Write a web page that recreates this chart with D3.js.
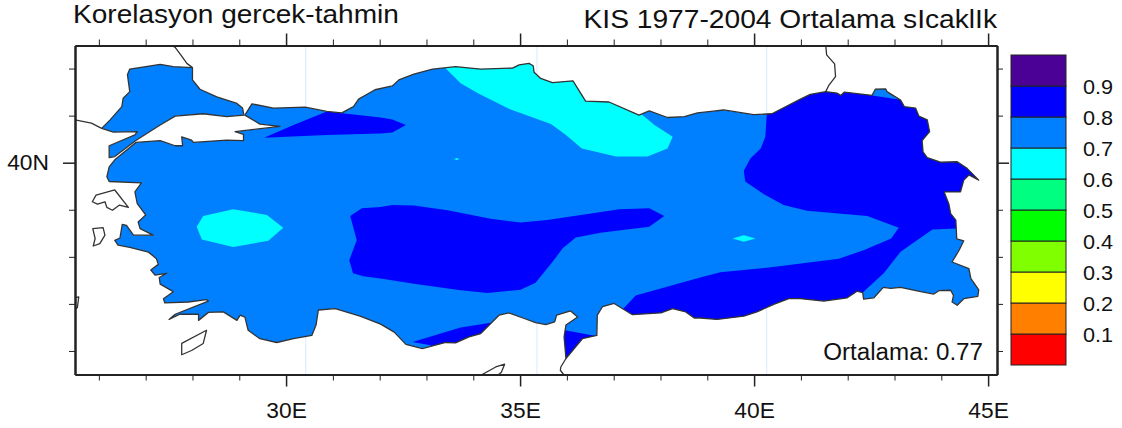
<!DOCTYPE html>
<html>
<head>
<meta charset="utf-8">
<script src="https://cdn.jsdelivr.net/npm/d3@7"></script>
<style>
  body { margin: 0; background: #fff; }
  text { font-family: "Liberation Sans", sans-serif; fill: #111; }
</style>
</head>
<body>
<div id="map"></div>
<script>
// Data: everything is [lon, lat]
const thrace = [[26.06,40.73],[26.24,40.91],[26.49,41.19],[26.52,41.37],[26.66,41.51],[26.61,41.87],[26.66,41.99],[27.31,42.09],[27.59,42.04],[28.00,42.02],[28.00,41.76],[28.16,41.56],[28.52,41.40],[28.95,41.26],[29.07,41.16],[29.10,41.01],[28.73,40.98],[28.23,41.04],[27.63,40.99],[27.31,40.80],[26.79,40.47],[26.34,40.13],[26.22,40.11],[26.22,40.36],[26.77,40.59],[26.82,40.66],[26.31,40.65]];

const anatolia = [[29.12,41.01],[29.27,41.25],[29.73,41.16],[30.41,41.18],[30.87,41.09],[31.19,41.06],[31.44,41.19],[31.55,41.35],[31.90,41.55],[32.27,41.63],[32.41,41.76],[32.73,41.88],[33.13,41.99],[33.62,42.04],[34.16,41.99],[34.84,42.01],[34.98,42.08],[35.19,42.11],[35.28,42.06],[35.30,41.92],[35.44,41.79],[35.69,41.70],[36.13,41.74],[36.40,41.31],[36.90,41.29],[37.54,41.01],[37.76,41.10],[38.15,40.96],[38.51,40.98],[38.79,41.06],[39.08,41.09],[39.35,41.12],[39.99,41.02],[40.38,41.04],[40.99,41.35],[41.20,41.45],[41.53,41.51],[41.77,41.48],[41.85,41.43],[41.93,41.50],[42.52,41.43],[42.59,41.56],[42.81,41.57],[42.84,41.51],[43.13,41.33],[43.21,41.19],[43.45,41.16],[43.52,40.99],[43.70,40.91],[43.75,40.66],[43.59,40.47],[43.61,40.23],[43.70,40.11],[43.98,40.01],[44.34,40.02],[44.55,39.88],[44.80,39.63],[44.59,39.74],[44.48,39.63],[44.41,39.38],[44.06,39.38],[44.16,39.13],[44.20,38.92],[44.31,38.78],[44.33,38.38],[44.48,38.34],[44.38,38.14],[44.23,37.89],[44.59,37.75],[44.63,37.54],[44.80,37.30],[44.78,37.16],[44.48,37.11],[44.34,36.97],[44.23,37.04],[44.26,37.18],[44.20,37.29],[43.95,37.28],[43.84,37.21],[43.56,37.26],[43.13,37.35],[42.92,37.33],[42.76,37.35],[42.56,37.13],[42.34,37.10],[42.32,37.24],[42.20,37.27],[41.99,37.13],[41.49,37.06],[40.99,37.11],[40.74,37.11],[40.42,36.99],[40.06,36.83],[39.78,36.74],[39.21,36.67],[38.85,36.70],[38.72,36.70],[38.54,36.83],[38.26,36.90],[38.01,36.81],[37.40,36.77],[37.01,37.01],[36.76,36.94],[36.65,36.76],[36.64,36.33],[36.33,36.26],[35.98,35.84],[35.94,36.30],[35.98,36.55],[36.23,36.72],[36.08,36.85],[35.78,36.76],[35.74,36.62],[35.55,36.56],[35.33,36.60],[35.09,36.69],[34.76,36.81],[34.55,36.76],[34.16,36.37],[33.91,36.30],[33.62,36.17],[33.41,36.18],[32.91,36.05],[32.56,36.14],[32.31,36.40],[32.02,36.57],[31.58,36.74],[31.05,36.90],[30.69,36.87],[30.64,36.55],[30.55,36.33],[30.16,36.26],[29.80,36.18],[29.44,36.26],[29.19,36.44],[29.12,36.72],[29.02,36.76],[28.95,36.65],[28.66,36.83],[28.34,36.82],[28.13,36.65],[28.13,36.78],[27.73,36.78],[27.50,36.67],[27.63,36.78],[28.34,37.06],[28.30,37.09],[27.91,37.04],[27.41,37.02],[27.38,37.11],[27.59,37.26],[27.31,37.42],[27.29,37.56],[27.45,37.65],[27.20,37.61],[27.11,37.72],[27.27,37.84],[27.23,37.96],[27.06,38.10],[26.66,38.20],[26.41,38.25],[26.34,38.35],[26.45,38.40],[26.50,38.69],[26.59,38.67],[26.74,38.46],[27.16,38.46],[26.88,38.60],[26.84,38.74],[27.00,38.89],[26.82,39.13],[26.77,39.38],[26.91,39.57],[26.22,39.60],[26.17,39.70],[26.22,39.91],[26.34,40.06],[26.79,40.43],[27.31,40.47],[27.63,40.36],[27.79,40.36],[27.77,40.55],[27.98,40.48],[28.02,40.43],[28.73,40.48],[29.09,40.47],[29.09,40.60],[28.91,40.66],[29.87,40.77],[29.44,40.82]];

// 0.7-0.8 contours (dark blue), running past the coast where they leave the land
const darkMarmara = [[29.53,40.53],[30.16,40.80],[30.87,41.09],[32.02,40.96],[32.27,40.92],[32.56,40.80],[32.27,40.64],[32.02,40.62],[30.87,40.59]];
const darkCentral = [[31.62,39.03],[31.37,38.87],[31.51,38.35],[31.35,37.93],[31.43,37.65],[31.65,37.59],[32.02,37.54],[32.73,37.43],[33.73,37.29],[34.30,37.23],[35.01,37.30],[35.33,37.45],[35.69,37.89],[35.91,38.18],[36.19,38.41],[36.72,38.51],[37.76,38.64],[38.08,38.87],[37.76,39.03],[37.12,39.01],[36.30,38.89],[35.58,38.78],[35.01,38.73],[34.37,38.81],[33.45,38.99],[32.73,39.09],[32.27,39.10],[32.02,39.06]];
const darkEast = [[40.28,41.19],[40.24,40.55],[40.14,40.30],[39.92,40.09],[39.78,39.83],[39.81,39.60],[40.21,39.33],[40.63,39.10],[41.13,38.98],[42.42,38.87],[43.09,38.62],[42.93,38.39],[42.34,38.14],[41.81,37.96],[40.28,37.77],[39.28,37.67],[38.85,37.56],[37.47,37.18],[37.19,36.88],[37.19,36.50],[42.30,36.50],[42.32,37.24],[42.77,37.65],[43.13,38.11],[43.81,38.58],[44.33,38.60],[45.00,38.60],[45.00,41.30],[43.30,41.30],[43.06,41.35],[42.52,41.43],[42.40,41.80],[40.28,41.80]];
const darkMersin = [[32.70,36.19],[33.73,36.50],[34.37,36.60],[34.37,35.94],[33.09,35.94],[33.09,36.12]];
const darkHatay = [[35.96,36.44],[36.62,36.32],[36.44,36.08],[35.94,35.80],[35.87,36.37]];

// 0.6-0.7 contours (cyan)
const cyanBlackSea = [[33.30,42.11],[33.73,41.69],[34.09,41.48],[34.80,41.13],[35.66,40.82],[35.98,40.59],[36.32,40.30],[37.05,40.13],[37.72,40.13],[38.15,40.30],[38.26,40.55],[37.87,40.80],[37.62,41.01],[37.51,41.19],[35.50,42.30]];
const cyanAegean = [[28.09,38.64],[28.23,38.87],[28.87,39.01],[29.59,38.89],[29.94,38.62],[29.62,38.34],[28.87,38.21],[28.20,38.37]];
const cyanSpotNorth = [[33.59,40.08],[33.65,40.10],[33.70,40.08],[33.65,40.05]];
const cyanSpotEast = [[39.54,38.39],[39.78,38.46],[40.03,38.39],[39.78,38.32]];

// Islands and borders outside the shaded area
const lesbos = [[25.86,39.17],[25.94,39.31],[26.34,39.42],[26.63,39.05],[26.44,39.10],[26.29,38.99],[26.17,39.05],[26.13,39.17],[25.97,39.12]];
const chios = [[25.87,38.60],[26.09,38.62],[26.13,38.46],[26.02,38.28],[25.88,38.23],[25.92,38.39]];
const samosEdge = [[25.49,37.13],[25.57,37.15],[25.54,36.92],[25.50,36.90]];
const rhodes = [[27.77,36.16],[28.30,36.44],[28.23,36.16],[27.98,36.01],[27.77,35.92]];
const cyprusTip = [[34.19,35.50],[34.48,35.66],[34.67,35.72],[34.60,35.55],[34.53,35.49]];
const bulgariaBorder = [[28.00,42.02],[27.88,42.11],[27.75,42.29],[27.63,42.45],[27.56,42.49]];
const greeceCoast = [[25.49,40.91],[25.84,40.84],[26.06,40.73]];
const georgiaBorder = [[41.53,42.50],[41.55,42.29],[41.72,42.10],[41.74,41.83],[41.60,41.65],[41.53,41.51]];
const syriaCoast = [[35.98,35.84],[35.87,35.66],[35.86,35.59],[35.93,35.50]];

// Faint seams between map tiles
const seamLons = [30.42, 35.36, 40.27];

// Axes and legend
const lonMajor = [30, 35, 40, 45];
const lonMinor = [26, 27, 28, 29, 31, 32, 33, 34, 36, 37, 38, 39, 41, 42, 43, 44];
const latMajor = [40];
const latMinor = [36, 37, 38, 39, 41, 42];
const levels = [0.1, 0.2, 0.3, 0.4, 0.5, 0.6, 0.7, 0.8, 0.9];
const levelColors = ['#ff0000', '#ff8000', '#ffff00', '#80ff00', '#00ff00', '#00ff80', '#00ffff', '#0080ff', '#0000ff', '#4b0096'];

// Dimensions
const WIDTH = 1122;
const HEIGHT = 428;
const FRAME = { TOP: 45.5, BOTTOM: 374.5, LEFT: 75, RIGHT: 997 };
const BAR = { TOP: 55, BOTTOM: 365, LEFT: 1011, RIGHT: 1066 };

const svg = d3
  .select('#map')
  .append('svg')
  .attr('width', WIDTH)
  .attr('height', HEIGHT)
  .style('display', 'block');

// Scales
const x = d3.scaleLinear().domain([25.49, 45.19]).range([FRAME.LEFT, FRAME.RIGHT]);
const y = d3.scaleLinear().domain([35.5, 42.49]).range([FRAME.BOTTOM, FRAME.TOP]);
const barY = d3.scaleLinear().domain([0, 1]).range([BAR.BOTTOM, BAR.TOP]);

const line = d3.line().x((d) => x(d[0])).y((d) => y(d[1]));
const closed = (pts) => line(pts) + 'Z';

// The reference type runs wider than Liberation Sans at the same height
function stretch(selection, size, factor) {
  selection.style('font-size', size + 'px').each(function () {
    this.setAttribute('textLength', this.getComputedTextLength() * factor);
    this.setAttribute('lengthAdjust', 'spacingAndGlyphs');
  });
}

// Clips
const defs = svg.append('defs');
defs
  .append('clipPath')
  .attr('id', 'frame-clip')
  .append('rect')
  .attr('x', FRAME.LEFT)
  .attr('y', FRAME.TOP)
  .attr('width', FRAME.RIGHT - FRAME.LEFT)
  .attr('height', FRAME.BOTTOM - FRAME.TOP);
defs
  .append('clipPath')
  .attr('id', 'land-clip')
  .selectAll('path')
  .data([thrace, anatolia])
  .enter()
  .append('path')
  .attr('d', closed);

// Seams
svg
  .selectAll('.seam')
  .data(seamLons)
  .enter()
  .append('line')
  .attr('class', 'seam')
  .attr('x1', (d) => x(d))
  .attr('x2', (d) => x(d))
  .attr('y1', FRAME.TOP)
  .attr('y2', FRAME.BOTTOM)
  .attr('stroke', '#d9e8fb')
  .attr('stroke-width', 1);

// Contour fill, clipped to land
const land = svg.append('g').attr('clip-path', 'url(#land-clip)');
land
  .selectAll('.base')
  .data([thrace, anatolia])
  .enter()
  .append('path')
  .attr('class', 'base')
  .attr('d', closed)
  .attr('fill', levelColors[7]);
land
  .selectAll('.dark')
  .data([darkMarmara, darkCentral, darkEast, darkMersin, darkHatay])
  .enter()
  .append('path')
  .attr('class', 'dark')
  .attr('d', closed)
  .attr('fill', levelColors[8]);
land
  .selectAll('.cyan')
  .data([cyanBlackSea, cyanAegean, cyanSpotNorth, cyanSpotEast])
  .enter()
  .append('path')
  .attr('class', 'cyan')
  .attr('d', closed)
  .attr('fill', levelColors[6]);

// Coast lines
const outlines = svg.append('g').attr('clip-path', 'url(#frame-clip)').attr('fill', 'none').attr('stroke', '#333').attr('stroke-width', 1.3).attr('stroke-linejoin', 'round');
outlines.selectAll('.shape').data([thrace, anatolia, lesbos, chios, samosEdge, rhodes]).enter().append('path').attr('class', 'shape').attr('d', closed);
outlines.selectAll('.open').data([cyprusTip, bulgariaBorder, greeceCoast, georgiaBorder, syriaCoast]).enter().append('path').attr('class', 'open').attr('d', line);

// Axes: majors are longer than minors, labels only left and bottom
function drawAxis(axis, scale, translate, major, minor, format, padding) {
  const g = svg.append('g').attr('transform', translate);
  g.call(axis(scale).tickValues(minor).tickSize(6).tickSizeOuter(0).tickFormat(''));
  const m = svg.append('g').attr('transform', translate);
  m.call(axis(scale).tickValues(major).tickSize(12).tickSizeOuter(0).tickPadding(padding).tickFormat(format));
  m.selectAll('text').call(stretch, 21.5, 1.06);
  g.selectAll('line').attr('stroke', '#222').attr('stroke-width', 1);
  m.selectAll('line').attr('stroke', '#222').attr('stroke-width', 1.5);
  [g, m].forEach((s) => s.select('.domain').attr('stroke', '#222').attr('stroke-width', 2));
}
drawAxis(d3.axisBottom, x, `translate(0,${FRAME.BOTTOM})`, lonMajor, lonMinor, (d) => d + 'E', 16);
drawAxis(d3.axisTop, x, `translate(0,${FRAME.TOP})`, lonMajor, lonMinor, '', 16);
drawAxis(d3.axisLeft, y, `translate(${FRAME.LEFT},0)`, latMajor, latMinor, (d) => d + 'N', 14);
drawAxis(d3.axisRight, y, `translate(${FRAME.RIGHT},0)`, latMajor, latMinor, '', 14);

// Legend bar
svg
  .selectAll('.box')
  .data(levelColors)
  .enter()
  .append('rect')
  .attr('class', 'box')
  .attr('x', BAR.LEFT)
  .attr('width', BAR.RIGHT - BAR.LEFT)
  .attr('y', (d, i) => barY((i + 1) / 10))
  .attr('height', barY(0) - barY(0.1))
  .attr('fill', (d) => d)
  .attr('stroke', '#222')
  .attr('stroke-width', 1);
svg
  .selectAll('.level')
  .data(levels)
  .enter()
  .append('text')
  .attr('class', 'level')
  .attr('x', 1113)
  .attr('y', (d) => barY(d))
  .attr('dy', '0.36em')
  .attr('text-anchor', 'end')
  .text((d) => d)
  .call(stretch, 21, 1.03);

// Titles
svg.append('text').attr('x', 73).attr('y', 22.7).text('Korelasyon gercek-tahmin').call(stretch, 25.5, 1.1);
svg.append('text').attr('x', 997).attr('y', 28.3).attr('text-anchor', 'end').text('KIS 1977-2004 Ortalama sIcaklIk').call(stretch, 25.5, 1.105);
svg.append('text').attr('x', 983).attr('y', 360).attr('text-anchor', 'end').text('Ortalama: 0.77').call(stretch, 23, 1.05);
</script>
</body>
</html>
